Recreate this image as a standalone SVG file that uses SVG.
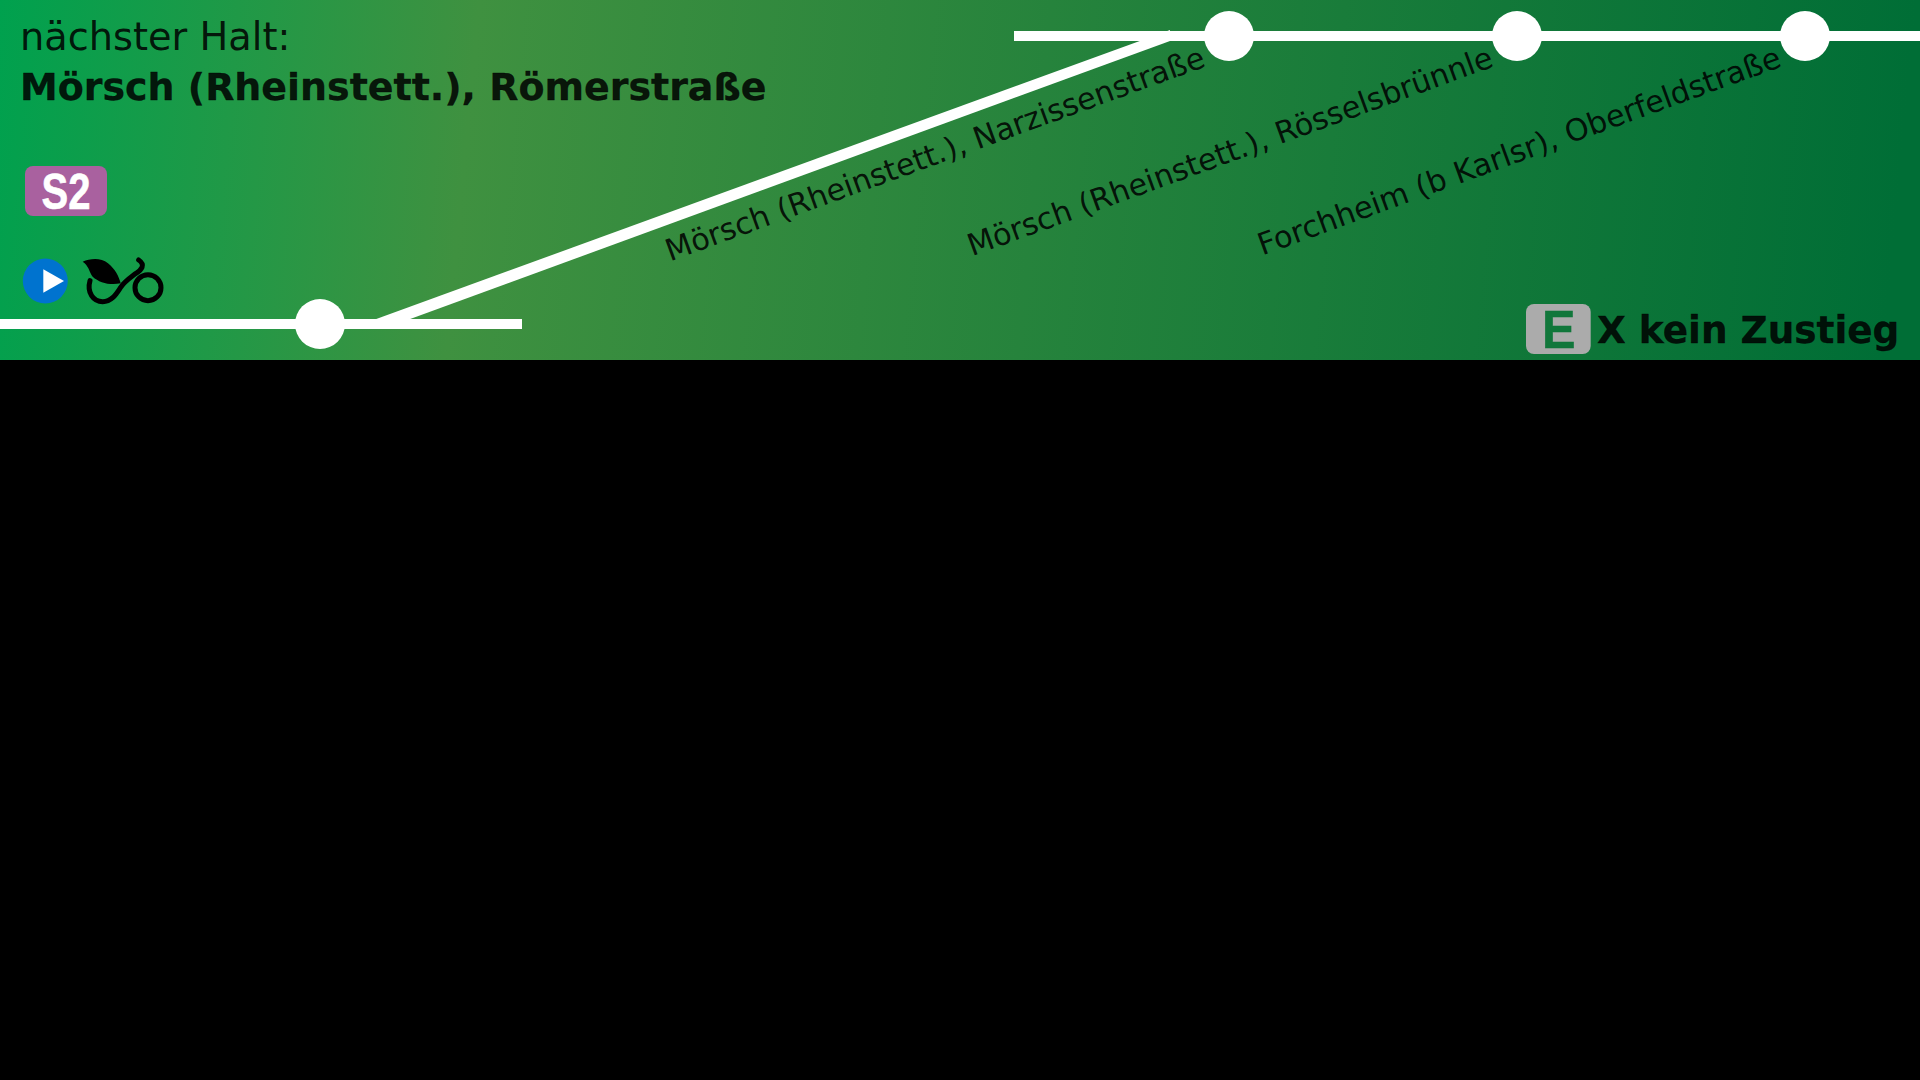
<svg xmlns="http://www.w3.org/2000/svg" width="1920" height="1080" viewBox="0 0 1920 1080">
<style>
text{font-family:"DejaVu Sans",sans-serif;fill:#000;fill-opacity:.87}
.b{font-weight:bold;stroke:#000;stroke-opacity:.8;stroke-width:.35}
.stop{font-size:30.3px}
.line{stroke:#fff;stroke-width:10;fill:none}
.dot{fill:#fff}
.bike{stroke:#000;stroke-width:15;fill:none;stroke-linecap:round}
</style>
<defs>
<linearGradient id="bg" gradientUnits="userSpaceOnUse" x1="0" y1="0" x2="1900" y2="180">
<stop offset="0" stop-color="#00a14e"/>
<stop offset=".25" stop-color="#3f9140"/>
<stop offset="1" stop-color="#006e36"/>
</linearGradient>
</defs>
<rect width="1920" height="1080" fill="#000"/>
<rect width="1920" height="360" fill="url(#bg)"/>
<g id="connectors">
<path class="line" d="M0 324H522"/>
<path class="line" d="M1014 36H1920"/>
<polygon fill="#fff" points="368,322 1170,30 1170,41 402,322"/>
</g>
<g id="stop-roemerstrasse"><circle class="dot" cx="320" cy="324" r="25"/></g>
<g id="stop-narzissenstrasse"><circle class="dot" cx="1229" cy="36" r="25"/>
<text class="stop" transform="translate(1207,66) rotate(-20)" text-anchor="end">Mörsch (Rheinstett.), Narzissenstraße</text></g>
<g id="stop-roesselsbruennle"><circle class="dot" cx="1517" cy="36" r="25"/>
<text class="stop" transform="translate(1495,66) rotate(-20)" text-anchor="end">Mörsch (Rheinstett.), Rösselsbrünnle</text></g>
<g id="stop-oberfeldstrasse"><circle class="dot" cx="1805" cy="36" r="25"/>
<text class="stop" transform="translate(1783,66) rotate(-20)" text-anchor="end">Forchheim (b Karlsr), Oberfeldstraße</text></g>
<g id="header">
<text x="20" y="49.5" font-size="38.3">nächster Halt:</text>
<text class="b" x="20" y="100" font-size="37.95">Mörsch (Rheinstett.), Römerstraße</text>
</g>
<g id="line-badge">
<rect x="25" y="166" width="82" height="50" rx="8" fill="#a9619f"/>
<text transform="translate(41.5,209) scale(.8,1)" font-size="50" font-weight="bold" stroke="#fff" stroke-width=".6" style="font-family:'Liberation Sans',sans-serif;fill:#fff;fill-opacity:1">S2</text>
</g>
<g id="play-icon">
<circle cx="45.3" cy="281" r="22.5" fill="#0073cf"/>
<polygon fill="#fff" points="43.3,269.3 64,281 43.3,292.7"/>
</g>
<g id="bike-icon" transform="translate(70,250) scale(.3333)">
<circle class="bike" cx="234" cy="113" r="39"/>
<path class="bike" d="M60 92C50 128 70 155 98 155C126 155 140 130 152 112C164 94 180 84 198 70C214 60 228 45 206 30"/>
<path fill="#000" d="M38 35C60 26 92 22 114 40C136 58 146 78 152 100C120 107 88 98 68 80C58 66 56 46 38 35Z"/>
</g>
<g id="no-entry">
<rect x="1526" y="304" width="64.7" height="50" rx="8" fill="#ababab"/>
<text transform="translate(1542,348) scale(.93,1)" font-size="54" font-weight="bold" stroke="#11773b" stroke-width=".6" style="font-family:'Liberation Sans',sans-serif;fill:#11773b;fill-opacity:1">E</text>
<text class="b" x="1597" y="343" font-size="37.4">X kein Zustieg</text>
</g>
</svg>
